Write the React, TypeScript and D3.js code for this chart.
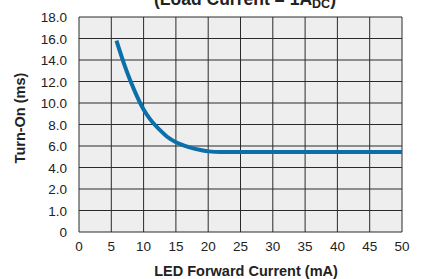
import { useEffect, useRef } from 'react'
import * as d3 from 'd3'

// tick values
const xTicks = [0, 5, 10, 15, 20, 25, 30, 35, 40, 45, 50]
const yTicks = [0, 1, 2, 4, 6, 8, 10, 12, 14, 16, 18]

// curve: LED current (mA) vs turn-on time (ms)
const currents = [5.8, 7, 8, 9, 10, 11, 12.5, 14, 15, 17, 19, 20, 22, 30, 40, 50]
const turnOn = [15.8, 13.6, 12.0, 10.6, 9.4, 8.5, 7.5, 6.7, 6.35, 5.9, 5.6, 5.5, 5.45, 5.45, 5.45, 5.45]

const App = () => {
  const svgRef = useRef<SVGSVGElement | null>(null)

  useEffect(() => {
    if (!svgRef.current) return
    const W = 422
    const H = 279
    const margin = { top: 17, right: 20, bottom: 47, left: 79 }
    const width = W - margin.left - margin.right
    const height = H - margin.top - margin.bottom

    const root = d3.select(svgRef.current)
    root.selectAll('*').remove()
    root.attr('width', W).attr('height', H)

    const font = 'Liberation Sans, Arial, sans-serif'

    const svg = root.append('g').attr('transform', `translate(${margin.left},${margin.top})`)

    const x = d3.scaleLinear().domain([0, 50]).range([0, width])
    // uneven axis: 0-1-2 then steps of 2, every tick one row
    const y = d3
      .scaleLinear()
      .domain(yTicks)
      .range(yTicks.map((_, i) => height - (i * height) / (yTicks.length - 1)))

    svg.append('rect').attr('width', width).attr('height', height).attr('fill', '#eeeeee')

    // grid
    svg
      .selectAll('.gx')
      .data(xTicks)
      .enter()
      .append('line')
      .attr('x1', (d) => x(d))
      .attr('x2', (d) => x(d))
      .attr('y1', 0)
      .attr('y2', height)
      .attr('stroke', '#2a2a2a')
      .attr('stroke-width', 1)

    svg
      .selectAll('.gy')
      .data(yTicks)
      .enter()
      .append('line')
      .attr('x1', 0)
      .attr('x2', width)
      .attr('y1', (d) => y(d))
      .attr('y2', (d) => y(d))
      .attr('stroke', '#2a2a2a')
      .attr('stroke-width', 1)

    // tick labels
    svg
      .selectAll('.xl')
      .data(xTicks)
      .enter()
      .append('text')
      .attr('x', (d) => x(d))
      .attr('y', height + 19)
      .attr('text-anchor', 'middle')
      .style('font-family', font)
      .style('font-size', '13.5px')
      .style('fill', '#222')
      .text((d) => String(d))

    svg
      .selectAll('.yl')
      .data(yTicks)
      .enter()
      .append('text')
      .attr('x', -12)
      .attr('y', (d) => y(d) + 5)
      .attr('text-anchor', 'end')
      .style('font-family', font)
      .style('font-size', '13.5px')
      .style('fill', '#222')
      .text((d) => (d === 0 ? '0' : d.toFixed(1)))

    // curve
    const pts = currents.map((c, i) => [c, turnOn[i]] as [number, number])
    const line = d3
      .line<[number, number]>()
      .x((d) => x(d[0]))
      .y((d) => y(d[1]))
      .curve(d3.curveMonotoneX)

    svg
      .append('path')
      .datum(pts)
      .attr('d', line)
      .attr('fill', 'none')
      .attr('stroke', '#0b6fa9')
      .attr('stroke-width', 4)

    // axis titles
    root
      .append('text')
      .attr('transform', `translate(25,118) rotate(-90)`)
      .attr('text-anchor', 'middle')
      .style('font-family', font)
      .style('font-size', '14.5px')
      .style('font-weight', 'bold')
      .style('fill', '#222')
      .text('Turn-On (ms)')

    root
      .append('text')
      .attr('x', 246)
      .attr('y', 276)
      .attr('text-anchor', 'middle')
      .style('font-family', font)
      .style('font-size', '14.5px')
      .style('font-weight', 'bold')
      .style('fill', '#222')
      .text('LED Forward Current (mA)')

    // title, cut off at the top
    const title = root
      .append('text')
      .attr('x', 245)
      .attr('y', 5)
      .attr('text-anchor', 'middle')
      .style('font-family', font)
      .style('font-size', '17.5px')
      .style('font-weight', 'bold')
      .style('fill', '#222')
    title.append('tspan').text('(Load Current = 1A')
    title.append('tspan').attr('dy', 2.5).style('font-size', '12.5px').text('DC')
    title.append('tspan').attr('dy', -2.5).text(')')
  }, [])

  return (
    <div style={{ position: 'absolute', left: 0, top: 0, background: '#fff' }}>
      <svg ref={svgRef} style={{ display: 'block' }} />
    </div>
  )
}

export default App
